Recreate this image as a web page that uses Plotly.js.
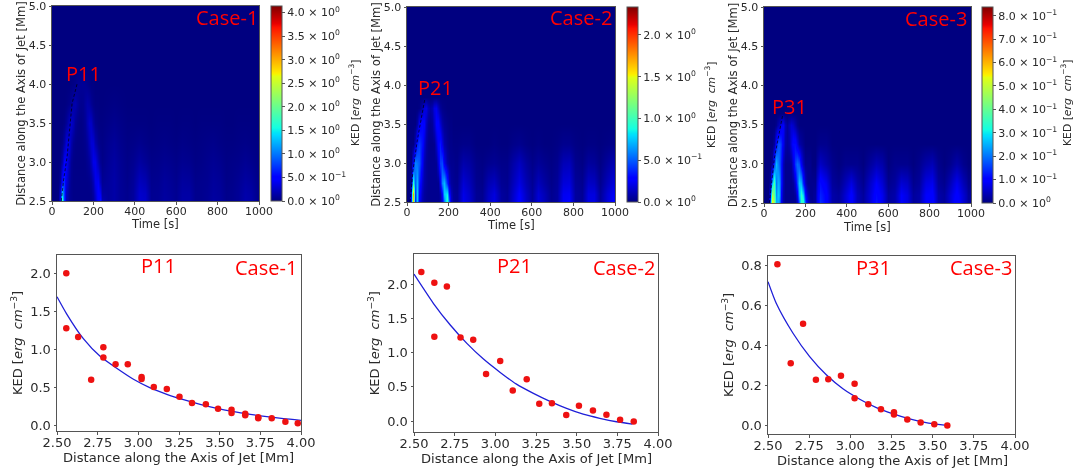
<!DOCTYPE html>
<html><head><meta charset="utf-8">
<script src="https://cdn.plot.ly/plotly-3.0.1.min.js"></script>
<style>html,body{margin:0;padding:0;background:#fff}#c{width:1074px;height:472px;filter:blur(0.35px)}</style>
</head><body><div id="c"></div>
<script>
// ---------- heat-map grid ----------
const times=[0,10,20,30,40,50,60,70,80,90,100,110,120,130,140,150,160,170,180,190,200,210,220,230,240,270,300,330,360,390,420,450,480,510,540,570,600,630,660,690,720,750,780,810,840,870,900,930,960,990,1000];
const quietRow=[0,0,0,0,0,0,0,0,0,0,0,0,0,0,0,0,0,0,0,0,0,0,0,0,0,0,0,0,0,0,0,0,0,0,0,0,0,0,0,0,0,0,0,0,0,0,0,0,0,0,0];

const dist1=[2.5,2.6,2.75,3,3.25,3.5,3.75,4,4.25,5];
const ked1=[
[0,0,0,.03,.4,1.7,.7,.2,.08,.05,.03,.03,.03,.03,.03,.03,.03,.03,.03,.04,.08,.22,.5,.6,.18,.1,.14,.08,.05,.1,.28,.26,.06,.07,.12,.1,.06,.14,.14,.05,.05,.07,.12,.1,.04,.05,.08,.16,.14,.05,.04],
[0,0,0,.02,.3,1.3,.75,.25,.08,.05,.03,.03,.03,.03,.03,.03,.03,.03,.03,.05,.12,.28,.5,.42,.12,.1,.14,.08,.05,.1,.27,.24,.06,.07,.11,.09,.06,.13,.13,.05,.05,.07,.11,.09,.04,.05,.08,.15,.13,.05,.04],
[0,0,0,.01,.1,.55,.7,.35,.12,.05,.03,.03,.03,.03,.03,.03,.03,.03,.04,.08,.18,.38,.42,.22,.07,.1,.14,.08,.04,.09,.22,.18,.05,.06,.1,.08,.05,.11,.1,.04,.05,.06,.1,.08,.03,.04,.07,.12,.1,.04,.03],
[0,0,0,0,.02,.15,.45,.45,.2,.07,.03,.02,.02,.02,.02,.02,.03,.06,.1,.22,.38,.38,.18,.07,.03,.08,.12,.07,.03,.06,.12,.08,.03,.04,.06,.05,.03,.06,.05,.02,.03,.05,.07,.05,.02,.03,.04,.07,.05,.02,.02],
[0,0,0,0,0,.03,.14,.33,.33,.16,.06,.03,.02,.02,.02,.03,.05,.1,.2,.3,.3,.16,.06,.03,.02,.06,.09,.05,.02,.03,.05,.03,.01,.02,.03,.02,.01,.03,.02,.01,.02,.03,.04,.02,.01,.01,.02,.03,.02,.01,.01],
[0,0,0,0,0,0,.02,.08,.22,.27,.2,.08,.04,.02,.02,.04,.08,.18,.26,.24,.12,.05,.02,.01,.01,.03,.05,.03,.01,.01,.01,.01,0,.01,.01,.01,0,.01,.01,0,.01,.01,.01,.01,0,0,.01,.01,.01,0,0],
[0,0,0,0,0,0,0,.01,.04,.09,.15,.17,.11,.06,.05,.06,.11,.15,.13,.07,.03,.01,.01,0,0,.01,.02,.01,0,0,0,0,0,0,0,0,0,0,0,0,0,0,0,0,0,0,0,0,0,0,0],
[0,0,0,0,0,0,0,0,0,.01,.02,.04,.07,.08,.08,.08,.07,.05,.03,.01,.01,0,0,0,0,0,0,0,0,0,0,0,0,0,0,0,0,0,0,0,0,0,0,0,0,0,0,0,0,0,0],
quietRow,quietRow];

const dist2=[2.5,2.6,2.75,3,3.25,3.5,3.7,3.85,5];
const ked2=[
[0,0,.35,1.6,.35,.75,.25,.1,.06,.04,.03,.03,.03,.03,.03,.03,.05,.18,.55,1,.5,.15,.06,.04,.04,.22,.16,.04,.03,.14,.2,.06,.04,.16,.28,.14,.05,.18,.12,.03,.06,.24,.26,.06,.04,.2,.2,.05,.18,.26,.2],
[0,0,.25,1.7,.4,.75,.3,.12,.06,.04,.03,.03,.03,.03,.03,.03,.07,.28,.75,.85,.32,.12,.05,.04,.04,.21,.15,.04,.03,.13,.19,.06,.04,.15,.26,.13,.05,.17,.11,.03,.06,.23,.24,.06,.04,.19,.19,.05,.17,.24,.19],
[0,0,.05,.95,.5,.7,.38,.16,.08,.05,.03,.03,.03,.03,.03,.03,.22,.6,.72,.38,.13,.06,.04,.03,.03,.17,.12,.03,.02,.1,.13,.04,.03,.12,.2,.1,.04,.12,.07,.02,.05,.18,.19,.05,.03,.14,.13,.03,.12,.18,.14],
[0,0,0,.25,.6,.55,.5,.26,.1,.05,.03,.03,.03,.03,.04,.18,.42,.45,.22,.08,.04,.03,.03,.02,.02,.09,.07,.02,.01,.03,.04,.02,.02,.08,.13,.06,.02,.05,.03,.01,.03,.11,.12,.03,.01,.06,.05,.01,.06,.1,.07],
[0,0,0,0,.12,.36,.42,.32,.17,.07,.03,.02,.02,.03,.14,.28,.34,.2,.09,.04,.02,.02,.01,.01,.01,.02,.02,0,0,0,.01,0,0,.02,.03,.01,0,.01,0,0,.01,.03,.03,.01,0,.01,.01,0,.01,.02,.01],
[0,0,0,0,0,.07,.24,.3,.26,.12,.05,.03,.05,.14,.26,.28,.17,.08,.04,.02,.01,.01,0,0,0,0,0,0,0,0,0,0,0,0,0,0,0,0,0,0,0,0,0,0,0,0,0,0,0,0,0],
[0,0,0,0,0,0,.01,.09,.18,.2,.11,.07,.1,.2,.22,.13,.05,.02,.01,0,0,0,0,0,0,0,0,0,0,0,0,0,0,0,0,0,0,0,0,0,0,0,0,0,0,0,0,0,0,0,0],
quietRow,quietRow];

const dist3=[2.5,2.6,2.75,3,3.25,3.5,3.65,5];
const ked3=[
[0,0,.01,.15,.55,.45,.25,.25,.08,.03,.01,.01,.01,.01,.01,.01,.05,.18,.34,.34,.18,.06,.02,.01,.02,.14,.1,.03,.02,.06,.1,.04,.02,.06,.12,.08,.02,.03,.09,.07,.02,.03,.09,.11,.03,.02,.06,.11,.06,.02,.02],
[0,0,0,.08,.48,.4,.22,.28,.1,.03,.01,.01,.01,.01,.01,.02,.08,.24,.34,.28,.12,.04,.01,.01,.02,.13,.1,.03,.02,.06,.1,.04,.02,.06,.11,.08,.02,.03,.09,.07,.02,.03,.09,.1,.03,.02,.06,.1,.06,.02,.02],
[0,0,0,.02,.25,.38,.2,.26,.12,.04,.01,.01,.01,.01,.02,.06,.16,.27,.25,.13,.05,.01,.01,.01,.01,.11,.08,.02,.01,.04,.07,.03,.01,.05,.09,.06,.01,.02,.06,.05,.01,.02,.07,.08,.02,.01,.04,.08,.04,.01,.01],
[0,0,0,0,.02,.15,.26,.2,.12,.04,.01,.01,.01,.02,.07,.15,.19,.17,.09,.04,.01,.01,.01,0,0,.05,.03,.01,0,.01,.01,.01,0,.02,.04,.03,0,.01,.01,.01,0,.01,.03,.04,.01,0,.01,.03,.01,0,0],
[0,0,0,0,0,.02,.11,.18,.14,.08,.03,.02,.03,.07,.11,.11,.07,.03,.02,.01,0,0,0,0,0,.01,.01,0,0,0,0,0,0,0,0,0,0,0,0,0,0,0,0,0,0,0,0,0,0,0,0],
[0,0,0,0,0,0,.01,.04,.08,.09,.04,.02,.04,.06,.05,.03,.01,0,0,0,0,0,0,0,0,0,0,0,0,0,0,0,0,0,0,0,0,0,0,0,0,0,0,0,0,0,0,0,0,0,0,0],
quietRow,quietRow];

// ---------- dashed tracks on the heat maps ----------
const track1T=[45,55,73,85,97,121], track1D=[2.5,2.75,3.07,3.4,3.75,4.0];
const track2T=[15,29,50,69,85],     track2D=[2.5,2.91,3.3,3.59,3.81];
const track3T=[26,50,66,90],        track3D=[2.5,3.07,3.29,3.62];

// ---------- scatter points ----------
const p11X=[2.557,2.557,2.63,2.71,2.785,2.785,2.86,2.935,3.02,3.02,3.095,3.175,3.253,3.33,3.415,3.49,3.573,3.573,3.657,3.657,3.737,3.737,3.82,3.904,3.98];
const p11Y=[2.005,1.28,1.165,.6,1.03,.895,.805,.805,.637,.61,.505,.48,.378,.295,.277,.22,.207,.163,.154,.132,.105,.092,.092,.048,.026];
const p21X=[2.545,2.625,2.702,2.625,2.786,2.864,2.943,3.03,3.107,3.193,3.27,3.348,3.436,3.514,3.6,3.683,3.767,3.851];
const p21Y=[2.18,2.024,1.97,1.234,1.224,1.19,.688,.878,.449,.61,.254,.259,.088,.224,.156,.093,.02,-.005];
const p31X=[2.557,2.638,2.713,2.791,2.866,2.943,3.026,3.026,3.109,3.186,3.265,3.265,3.346,3.427,3.51,3.589];
const p31Y=[.805,.31,.508,.227,.23,.247,.207,.135,.105,.08,.065,.053,.028,.013,.005,-.002];

// ---------- fit curves ----------
const fit1X=[2.5,2.56,2.662,2.765,2.867,2.97,3.07,3.175,3.278,3.38,3.483,3.586,3.688,3.79,3.893,4.0];
const fit1Y=[1.697,1.468,1.143,.91,.752,.607,.497,.409,.338,.277,.224,.18,.145,.114,.088,.066];
const fit2X=[2.5,2.62,2.723,2.825,2.927,3.03,3.13,3.234,3.336,3.438,3.54,3.642,3.745,3.843];
const fit2Y=[2.15,1.72,1.405,1.137,.907,.712,.54,.405,.288,.185,.10,.04,-.01,-.044];
const fit3X=[2.5,2.55,2.652,2.753,2.854,2.955,3.057,3.158,3.26,3.36,3.46,3.573];
const fit3Y=[.718,.61,.46,.343,.252,.182,.13,.088,.057,.032,.013,0];

// ---------- colour bar ticks ----------
const cb1Vals=[0,.5,1,1.5,2,2.5,3,3.5,4];
const cb1Text=['0.0 × 10<sup>0</sup>','5.0 × 10<sup>−1</sup>','1.0 × 10<sup>0</sup>','1.5 × 10<sup>0</sup>','2.0 × 10<sup>0</sup>','2.5 × 10<sup>0</sup>','3.0 × 10<sup>0</sup>','3.5 × 10<sup>0</sup>','4.0 × 10<sup>0</sup>'];
const cb2Vals=[0,.5,1,1.5,2];
const cb2Text=['0.0 × 10<sup>0</sup>','5.0 × 10<sup>−1</sup>','1.0 × 10<sup>0</sup>','1.5 × 10<sup>0</sup>','2.0 × 10<sup>0</sup>'];
const cb3Vals=[0,.1,.2,.3,.4,.5,.6,.7,.8];
const cb3Text=['0.0 × 10<sup>0</sup>','1.0 × 10<sup>−1</sup>','2.0 × 10<sup>−1</sup>','3.0 × 10<sup>−1</sup>','4.0 × 10<sup>−1</sup>','5.0 × 10<sup>−1</sup>','6.0 × 10<sup>−1</sup>','7.0 × 10<sup>−1</sup>','8.0 × 10<sup>−1</sup>'];

// ---------- layout helpers ----------
const W=1074,H=472;
const FONT='"DejaVu Sans"', INK='#2a2a2a', EDGE='#555';
const px=x=>x/W, py=y=>1-y/H;
const jet=[[0,'rgb(0,0,128)'],[.11,'rgb(0,0,255)'],[.125,'rgb(0,0,255)'],[.34,'rgb(0,219,255)'],[.35,'rgb(0,229,247)'],[.375,'rgb(20,255,226)'],[.64,'rgb(226,255,20)'],[.65,'rgb(247,245,0)'],[.66,'rgb(255,232,0)'],[.89,'rgb(255,19,0)'],[.91,'rgb(232,0,0)'],[1,'rgb(128,0,0)']];
const KED='KED [<i>erg  cm</i><sup>−3</sup>]';
const AXIS='Distance along the Axis of Jet [Mm]';

const panels=[
 {t:[52,259,6,201],c:[271,282],z:ked1,d:dist1,zmax:4.14,cv:cb1Vals,ct:cb1Text,tt:track1T,td:track1D},
 {t:[407,615,7,202],c:[627,638],z:ked2,d:dist2,zmax:2.335,cv:cb2Vals,ct:cb2Text,tt:track2T,td:track2D},
 {t:[764,971,7,203],c:[982,993],z:ked3,d:dist3,zmax:.837,cv:cb3Vals,ct:cb3Text,tt:track3T,td:track3D}];
const lower=[
 {b:[57,301,255,431],yr:[-.075,2.247],yt:[0,.5,1,1.5,2],x:p11X,y:p11Y,fx:fit1X,fy:fit1Y},
 {b:[414,658,254.3,432],yr:[-.16,2.44],yt:[0,.5,1,1.5,2],x:p21X,y:p21Y,fx:fit2X,fy:fit2Y},
 {b:[768,1015,255.7,434],yr:[-.044,.848],yt:[0,.2,.4,.6,.8],x:p31X,y:p31Y,fx:fit3X,fy:fit3Y}];

const data=[],layout={width:W,height:H,margin:{l:0,r:0,t:0,b:0},paper_bgcolor:'#fff',plot_bgcolor:'#fff',showlegend:false,font:{family:FONT,color:INK},annotations:[]};
const axBase={showgrid:false,zeroline:false,showline:true,mirror:true,linecolor:EDGE,linewidth:1,ticks:'outside',ticklen:2.5,tickwidth:1,tickcolor:EDGE,ticklabeloverflow:'allow'};
function addAxes(n,b,xr,yr,xo,yo){
  const k=n===1?'':n;
  layout['xaxis'+k]=Object.assign({},axBase,{domain:[px(b[0]),px(b[1])],range:xr,anchor:'y'+k,ticklabelstandoff:xo.sd,tickfont:{size:xo.fs,family:FONT,color:INK},tickvals:xo.vals,ticktext:xo.text,tickmode:'array'});
  layout['yaxis'+k]=Object.assign({},axBase,{domain:[py(b[3]),py(b[2])],range:yr,anchor:'x'+k,tickfont:{size:yo.fs,family:FONT,color:INK},tickvals:yo.vals,ticktext:yo.text,tickmode:'array',title:{text:yo.title,font:{size:yo.ts,family:FONT,color:INK},standoff:yo.so}});
}
panels.forEach((p,i)=>{
  const n=i+1,k=n===1?'':n;
  addAxes(n,p.t,[0,1000],[2.5,5],
    {fs:11,sd:-3,vals:[0,200,400,600,800,1000],text:['0','200','400','600','800','1000']},
    {fs:11,ts:11.6,so:0,vals:[2.5,3,3.5,4,4.5,5],text:['2.5','3.0','3.5','4.0','4.5','5.0'],title:AXIS});
  data.push({type:'heatmap',x:times,y:p.d,z:p.z,zmin:0,zmax:p.zmax,zsmooth:'best',colorscale:jet,xaxis:'x'+k,yaxis:'y'+k,hoverinfo:'skip',
    colorbar:{x:px(p.c[0]),xanchor:'left',xref:'paper',y:py((p.t[2]+p.t[3])/2),yanchor:'middle',yref:'paper',thickness:p.c[1]-p.c[0],thicknessmode:'pixels',len:(p.t[3]-p.t[2])/H,lenmode:'fraction',xpad:0,ypad:0,outlinecolor:EDGE,outlinewidth:1,tickmode:'array',tickvals:p.cv,ticktext:p.ct,ticks:'outside',ticklen:3,tickcolor:EDGE,ticklabeloverflow:'allow',tickfont:{size:11,family:FONT,color:INK}}});
  data.push({type:'scatter',mode:'lines',x:p.tt,y:p.td,xaxis:'x'+k,yaxis:'y'+k,line:{color:'rgba(0,0,0,.75)',width:.9,dash:'3px,2px'},hoverinfo:'skip'});
});
lower.forEach((p,i)=>{
  const n=i+4;
  addAxes(n,p.b,[2.5,4],p.yr,
    {fs:13,sd:-3,vals:[2.5,2.75,3,3.25,3.5,3.75,4],text:['2.50','2.75','3.00','3.25','3.50','3.75','4.00']},
    {fs:13,ts:13,so:4,vals:p.yt,text:p.yt.map(v=>v.toFixed(1)),title:KED});
  data.push({type:'scatter',mode:'lines',x:p.fx,y:p.fy,xaxis:'x'+n,yaxis:'y'+n,line:{color:'#1f1fd8',width:1.3,shape:'spline',smoothing:.6},hoverinfo:'skip'});
  data.push({type:'scatter',mode:'markers',x:p.x,y:p.y,xaxis:'x'+n,yaxis:'y'+n,marker:{color:'#ee1111',size:6.5},hoverinfo:'skip',cliponaxis:false});
});
const note=(text,x,y,font,angle)=>layout.annotations.push({xref:'paper',yref:'paper',x:px(x),y:py(y),text,showarrow:false,xanchor:'center',yanchor:'middle',textangle:angle||0,font});
const labels=[['Case-1',227,17],['P11',83,73],['Case-2',581,17],['P21',435,87],['Case-3',936,18],['P31',790,107],
 ['P11',158,265],['Case-1',266,267],['P21',514,265],['Case-2',624,267],['P31',873,267],['Case-3',981,267]];
labels.forEach(l=>note(l[0],l[1],l[2],{family:'"Open Sans"',size:20,color:'#ff0000'}));
[[355,103],[711,105],[1067,103]].forEach(c=>note(KED,c[0],c[1],{family:FONT,size:10.8,color:INK},-90));
[[155,224],[511,225],[867,227]].forEach(c=>note('Time [s]',c[0],c[1],{family:FONT,size:11.5,color:INK}));
[[178,457],[536,458],[892,460]].forEach(c=>note(AXIS,c[0],c[1],{family:FONT,size:13.1,color:INK}));
Plotly.newPlot('c',data,layout,{displayModeBar:false,responsive:false,staticPlot:true});
</script></body></html>
